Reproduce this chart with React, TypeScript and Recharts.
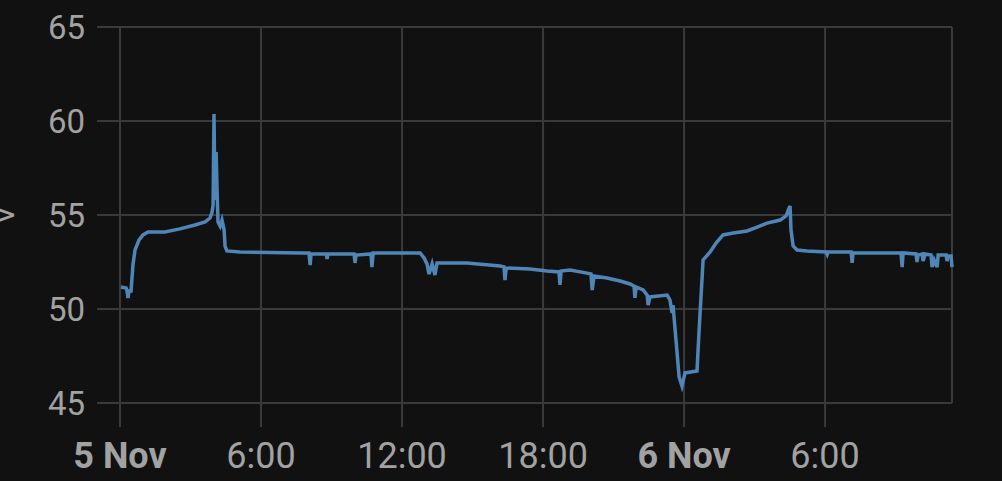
import { LineChart, Line, XAxis, YAxis, CartesianGrid } from 'recharts'

// hours since 5 Nov 00:00
const hours = [
  0.04, 0.26, 0.3, 0.34, 0.38, 0.47, 0.55, 0.64, 0.81, 0.98, 1.19, 1.91, 2.55, 3.19, 3.62, 3.83, 3.91, 3.96,
  4.0, 4.04, 4.09, 4.13, 4.17, 4.26, 4.34, 4.43, 4.47, 4.55, 5.11, 7.66, 8.04, 8.09, 8.13, 8.77, 8.81, 8.85,
  9.96, 10.0, 10.04, 10.68, 10.72, 10.77, 12.77, 12.94, 13.06, 13.15, 13.28, 13.4, 13.49, 14.77, 16.17, 16.34,
  16.38, 16.43, 17.45, 18.17, 18.68, 18.72, 18.77, 19.15, 19.87, 20.04, 20.09, 20.17, 20.72, 21.28, 21.7, 21.87,
  21.91, 21.96, 22.26, 22.43, 22.47, 22.55, 23.28, 23.4, 23.49, 23.53, 23.79, 23.87, 23.91, 24.04, 24.55, 24.64,
  24.81, 25.11, 25.36, 25.66, 26.09, 26.68, 27.11, 27.53, 28.09, 28.34, 28.47, 28.51, 28.55, 28.64, 28.81, 29.23,
  30.04, 30.09, 30.13, 31.11, 31.15, 31.19, 33.23, 33.28, 33.32, 33.87, 33.91, 33.96, 34.13, 34.17, 34.26, 34.51,
  34.55, 34.64, 34.77, 34.81, 35.15, 35.19, 35.23, 35.36, 35.4,
]

const volts = [
  51.17, 51.12, 50.96, 50.59, 50.96, 50.96, 52.34, 53.14, 53.67, 53.94, 54.1, 54.1, 54.26, 54.47, 54.63, 54.84,
  55.11, 55.53, 60.37, 55.8, 58.35, 56.3, 54.63, 54.41, 54.73, 54.2, 53.35, 53.09, 53.03, 52.98, 52.98, 52.34,
  52.93, 52.93, 52.66, 52.93, 52.93, 52.45, 52.87, 52.93, 52.23, 52.98, 52.98, 52.71, 52.4, 51.86, 52.4, 51.81,
  52.45, 52.45, 52.29, 52.24, 51.54, 52.18, 52.13, 52.02, 51.97, 51.28, 52.02, 52.07, 51.91, 51.86, 51.01, 51.76,
  51.65, 51.49, 51.33, 51.22, 50.59, 51.17, 51.01, 50.74, 50.21, 50.64, 50.74, 50.48, 49.79, 50.21, 46.38, 46.06,
  45.9, 46.6, 46.7, 48.88, 52.61, 53.03, 53.51, 53.94, 54.04, 54.15, 54.36, 54.57, 54.73, 54.95, 55.37, 55.48,
  54.2, 53.35, 53.14, 53.09, 53.03, 52.9, 53.03, 53.03, 52.45, 52.98, 52.98, 52.23, 52.98, 52.93, 52.5, 52.87,
  52.93, 52.55, 52.93, 52.87, 52.23, 52.61, 52.23, 52.87, 52.87, 52.55, 52.82, 52.82, 52.23,
]

const xTicks = [0, 6, 12, 18, 24, 30]
const xTickLabels = ['5 Nov', '6:00', '12:00', '18:00', '6 Nov', '6:00']
const yTicks = [45, 50, 55, 60, 65]

const data = hours.map((h, i) => ({ h, v: volts[i] }))

const GRID = '#3a3a3a'
const TEXT = '#a2a2a2'
const FONT = 'Roboto, sans-serif'

function XTick({ x, y, payload }: any) {
  const i = xTicks.indexOf(payload.value)
  const label = xTickLabels[i]
  const bold = label.includes('Nov')
  return (
    <text x={x} y={y + 39} textAnchor="middle" fill={TEXT} fontSize={36} fontFamily={FONT} fontWeight={bold ? 700 : 400}>
      {label}
    </text>
  )
}

function YTick({ x, y, payload }: any) {
  return (
    <text x={x} y={y + 12} textAnchor="end" fill={TEXT} fontSize={33} fontFamily={FONT}>
      {payload.value}
    </text>
  )
}

export default function App() {
  return (
    <div style={{ position: 'fixed', left: 0, top: 0, width: 1002, height: 481, background: '#111111' }}>
      <LineChart width={1002} height={481} data={data} margin={{ top: 27, right: 50, bottom: 18, left: 0 }}>
        <CartesianGrid stroke={GRID} strokeWidth={2} />
        <XAxis
          dataKey="h"
          type="number"
          domain={[0, 35.4]}
          ticks={xTicks}
          height={60}
          axisLine={false}
          tickSize={24}
          tickLine={{ stroke: GRID, strokeWidth: 2 }}
          tick={<XTick />}
          interval={0}
        />
        <YAxis
          type="number"
          domain={[45, 65]}
          ticks={yTicks}
          width={120}
          axisLine={false}
          tickSize={23}
          tickMargin={12}
          tickLine={{ stroke: GRID, strokeWidth: 2 }}
          tick={<YTick />}
          interval={0}
          label={{
            content: () => (
              <text x={14} y={215} transform="rotate(-90, 14, 215)" textAnchor="middle" fill={TEXT} fontSize={31} fontFamily={FONT}>
                V
              </text>
            ),
          }}
        />
        <Line
          type="linear"
          dataKey="v"
          stroke="#4f86b7"
          strokeWidth={3.5}
          dot={false}
          isAnimationActive={false}
        />
      </LineChart>
    </div>
  )
}
